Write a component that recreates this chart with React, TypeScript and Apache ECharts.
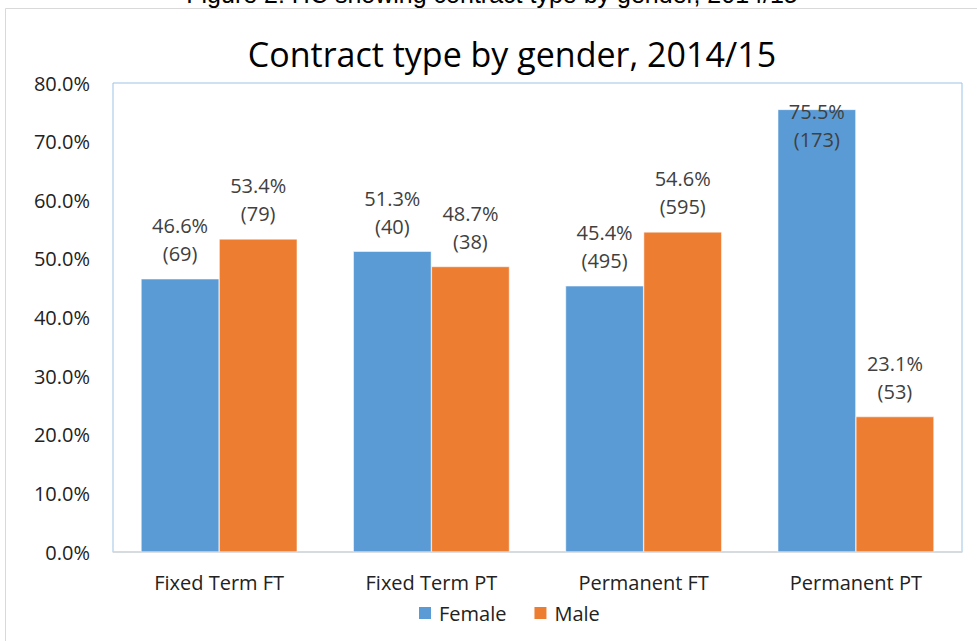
import React, { useEffect, useRef } from "react";
import * as echarts from "echarts";

const categories = ["Fixed Term FT", "Fixed Term PT", "Permanent FT", "Permanent PT"];
const femalePct = [46.6, 51.3, 45.4, 75.5];
const femaleCount = [69, 40, 495, 173];
const malePct = [53.4, 48.7, 54.6, 23.1];
const maleCount = [79, 38, 595, 53];
const yTicks = [0, 10, 20, 30, 40, 50, 60, 70, 80];

const FONT = "'Open Sans', 'Noto Sans', sans-serif";

export default function App() {
  const ref = useRef<HTMLDivElement>(null);
  useEffect(() => {
    document.body.style.margin = "0";
    const chart = echarts.init(ref.current!, null, { renderer: "svg" });
    const labelBase = {
      show: true,
      position: "top" as const,
      distance: 11,
      color: "#404040",
      fontFamily: FONT,
      fontSize: 20,
      lineHeight: 28,
    };
    const mk = (pct: number[], cnt: number[], clipTop: boolean) =>
      pct.map((v, i) => {
        const item: any = { value: v, label: { formatter: `${v.toFixed(1)}%\n(${cnt[i]})` } };
        if (clipTop && v > 70) {
          item.label = { ...item.label, position: "insideTop", distance: 0, offset: [0, -12] };
        }
        return item;
      });
    chart.setOption({
      animation: false,
      backgroundColor: "#ffffff",
      graphic: [
        {
          type: "rect",
          shape: { x: 5.5, y: 8.5, width: 1000, height: 700 },
          style: { fill: "none", stroke: "#D9D9D9", lineWidth: 1 },
          silent: true,
        },
        {
          type: "text",
          x: 492,
          y: 6,
          style: {
            text: "Figure 2: HC showing contract type by gender, 2014/15",
            font: "25px 'Liberation Sans', Arial, sans-serif",
            fill: "#000000",
            align: "center",
            verticalAlign: "bottom",
          },
        },
        {
          type: "text",
          x: 512,
          y: 54,
          style: {
            text: "Contract type by gender, 2014/15",
            font: `34px ${FONT}`,
            fill: "#000000",
            align: "center",
            verticalAlign: "middle",
          },
        },
      ],
      legend: {
        left: 412,
        top: 598,
        itemWidth: 14,
        itemHeight: 14,
        itemGap: 26,
        icon: "rect",
        textStyle: { fontFamily: FONT, fontSize: 20, color: "#222", lineHeight: 20, padding: [0, 0, 0, 2] },
        data: ["Female", "Male"],
      },
      grid: { left: 113, right: 15, top: 83, bottom: 89, show: true, borderColor: "#9DC3E6", borderWidth: 1 },
      xAxis: {
        type: "category",
        data: categories,
        axisTick: { show: false },
        axisLine: { lineStyle: { color: "#D9D9D9", width: 1.5 } },
        axisLabel: { fontFamily: FONT, fontSize: 20, color: "#222", margin: 20 },
      },
      yAxis: {
        type: "value",
        min: 0,
        max: 80,
        interval: 10,
        splitLine: { show: false },
        axisLine: { show: false },
        axisTick: { show: false },
        axisLabel: {
          fontFamily: FONT,
          fontSize: 20,
          color: "#222",
          margin: 23,
          formatter: (v: number) => (yTicks.includes(v) ? `${v.toFixed(1)}%` : ""),
        },
      },
      series: [
        {
          name: "Female",
          type: "bar",
          data: mk(femalePct, femaleCount, true),
          barGap: "0%",
          barCategoryGap: "26.4%",
          itemStyle: { color: "#5B9BD5", borderColor: "#ffffff", borderWidth: 0.5 },
          label: labelBase,
        },
        {
          name: "Male",
          type: "bar",
          data: mk(malePct, maleCount, false),
          itemStyle: { color: "#ED7D31", borderColor: "#ffffff", borderWidth: 0.5 },
          label: labelBase,
        },
      ],
    });
    return () => chart.dispose();
  }, []);
  return <div ref={ref} style={{ position: "absolute", left: 0, top: 0, width: 977, height: 641 }} />;
}
